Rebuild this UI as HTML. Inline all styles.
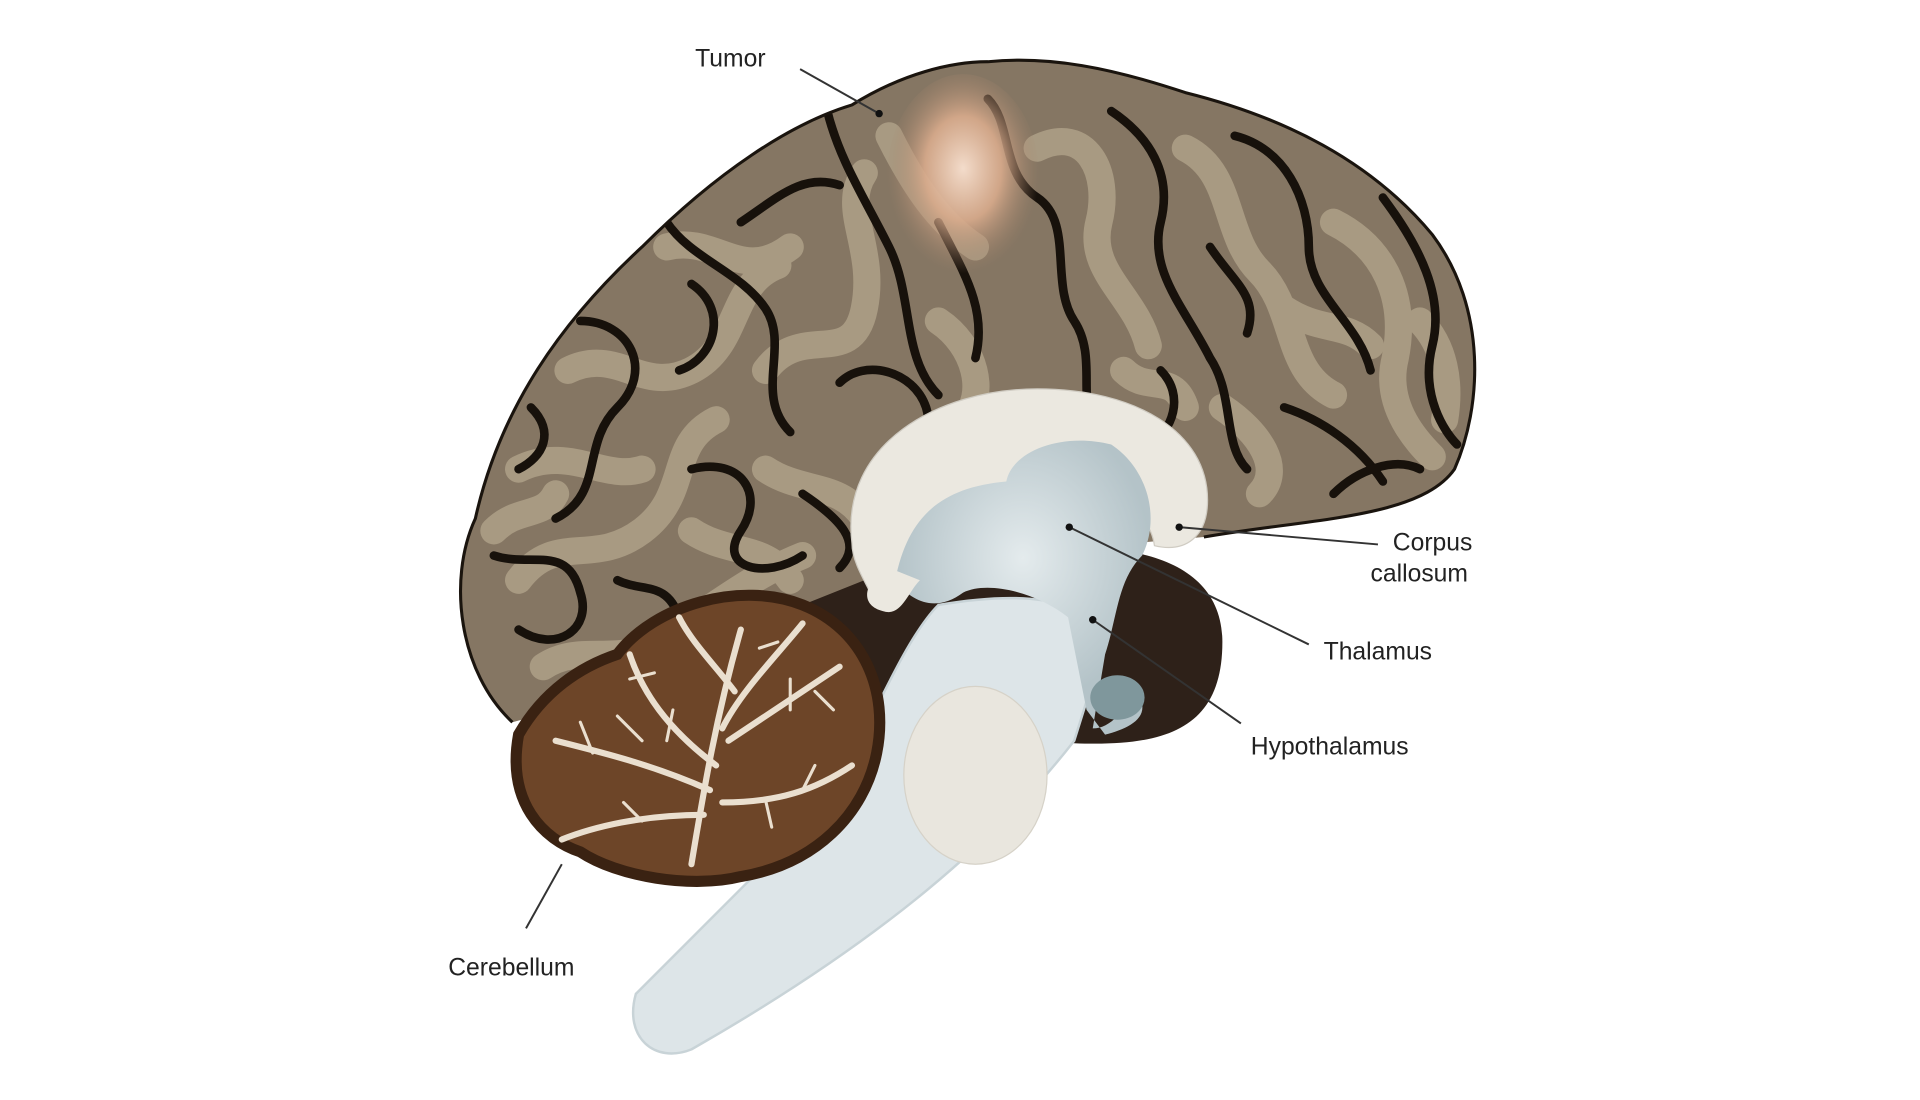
<!DOCTYPE html>
<html><head><meta charset="utf-8"><style>
html,body{margin:0;padding:0;background:#fff;width:1920px;height:1100px;overflow:hidden}
svg{display:block}
text{font-family:"Liberation Sans",sans-serif;font-size:20px;fill:#222}
</style></head><body>
<svg width="1920" height="1100" viewBox="0 0 1555 891" preserveAspectRatio="none">
<defs>
<radialGradient id="tum" cx="50%" cy="45%" r="50%">
<stop offset="0" stop-color="#f3dccb"/><stop offset="0.5" stop-color="#d9ab8c" stop-opacity="0.9"/><stop offset="1" stop-color="#a08068" stop-opacity="0"/>
</radialGradient>
<radialGradient id="thal" cx="50%" cy="40%" r="50%"><stop offset="0" stop-color="#e4ebed"/><stop offset="1" stop-color="#b4c3c8"/></radialGradient>
<clipPath id="cc"><path d="M415,585 C372,545 362,470 385,420 C405,330 455,260 520,200 C580,140 640,100 690,85 C730,60 770,50 800,50 C850,45 900,55 960,75 C1040,95 1110,130 1160,190 C1205,250 1200,330 1178,380 C1150,420 1060,420 975,435 L860,445 L700,470 L600,510 L470,570 Z"/></clipPath>
</defs>
<!-- dark region behind -->
<path d="M620,500 C700,450 800,440 860,445 C930,440 990,460 990,520 C990,590 945,605 870,602 L720,600 L640,600 Z" fill="#2e2119"/>
<!-- cerebrum -->
<path d="M415,585 C372,545 362,470 385,420 C405,330 455,260 520,200 C580,140 640,100 690,85 C730,60 770,50 800,50 C850,45 900,55 960,75 C1040,95 1110,130 1160,190 C1205,250 1200,330 1178,380 C1150,420 1060,420 975,435 L860,445 L700,470 L600,510 L470,570 Z" fill="#857663"/>
<g clip-path="url(#cc)">
<g fill="none" stroke="#a89a82" stroke-width="22" stroke-linecap="round">
<path d="M420,470 C450,430 480,460 520,430 C560,400 540,360 580,340"/>
<path d="M460,300 C500,280 520,320 560,300 C600,280 590,230 630,215"/>
<path d="M540,200 C580,190 600,230 640,200"/>
<path d="M620,300 C650,260 690,300 700,250 C710,200 680,170 700,140"/>
<path d="M840,120 C880,100 900,140 890,180 C880,220 920,240 930,280"/>
<path d="M960,120 C1000,140 990,190 1020,220 C1050,250 1040,300 1080,320"/>
<path d="M1080,180 C1120,200 1140,240 1130,290 C1120,330 1150,360 1160,370"/>
<path d="M420,380 C460,360 490,390 520,380"/>
<path d="M440,540 C470,520 500,540 530,520 C570,500 600,470 650,450"/>
<path d="M760,260 C790,280 800,320 780,340"/>
<path d="M990,330 C1020,350 1040,380 1020,400"/>
<path d="M400,430 C420,410 440,420 450,400"/>
<path d="M620,380 C650,400 680,390 700,420"/>
<path d="M910,300 C930,320 950,300 960,330"/>
<path d="M1040,250 C1070,270 1090,260 1110,280"/>
<path d="M720,110 C740,150 760,180 790,200"/>
<path d="M560,430 C590,450 620,440 640,470"/>
<path d="M1150,260 C1170,280 1175,310 1170,340"/>
</g>
<g fill="none" stroke="#17110b" stroke-width="7" stroke-linecap="round" stroke-linejoin="round">
<path d="M670,90 C680,130 700,160 720,200 C740,240 730,290 760,320"/>
<path d="M540,180 C560,210 600,220 620,250 C640,280 610,320 640,350"/>
<path d="M470,260 C510,260 530,300 500,330 C470,360 490,400 450,420"/>
<path d="M400,450 C430,460 460,440 470,480 C480,510 450,530 420,510"/>
<path d="M560,380 C600,370 620,400 600,430 C580,460 620,470 650,450"/>
<path d="M800,80 C820,100 810,140 840,160 C870,180 850,230 870,260 C890,290 870,330 890,350"/>
<path d="M900,90 C930,110 950,140 940,180 C930,220 960,250 980,290 C1000,320 990,360 1010,380"/>
<path d="M1000,110 C1040,120 1060,160 1060,200 C1060,240 1100,260 1110,300"/>
<path d="M1120,160 C1150,200 1170,240 1160,280 C1150,320 1170,350 1180,360"/>
<path d="M680,310 C700,290 740,300 750,330 C760,360 720,380 710,400"/>
<path d="M560,230 C590,250 580,290 550,300"/>
<path d="M940,300 C960,320 950,350 930,360"/>
<path d="M1040,330 C1070,340 1100,360 1120,390"/>
<path d="M430,330 C450,350 440,370 420,380"/>
<path d="M480,580 C520,560 560,560 600,520"/>
<path d="M600,180 C630,160 650,140 680,150"/>
<path d="M650,400 C680,420 700,440 680,460"/>
<path d="M760,180 C780,220 800,250 790,290"/>
<path d="M980,200 C1000,230 1020,240 1010,270"/>
<path d="M1080,400 C1100,380 1130,370 1150,380"/>
<path d="M500,470 C520,480 540,470 550,500"/>
</g>
</g>
<path d="M415,585 C372,545 362,470 385,420 C405,330 455,260 520,200 C580,140 640,100 690,85 C730,60 770,50 800,50 C850,45 900,55 960,75 C1040,95 1110,130 1160,190 C1205,250 1200,330 1178,380 C1150,420 1060,420 975,435" fill="none" stroke="#1a140e" stroke-width="2.5"/>
<ellipse cx="780" cy="145" rx="62" ry="85" fill="url(#tum)"/>
<!-- brainstem -->
<path d="M760,490 C820,480 880,480 895,520 L870,600 C800,690 700,770 560,850 C530,862 505,840 515,805 L670,650 C700,600 730,520 760,490 Z" fill="#dde5e8" stroke="#c8d3d7" stroke-width="2"/>
<ellipse cx="790" cy="628" rx="58" ry="72" fill="#e9e6de" stroke="#d6d2c8"/>
<!-- corpus callosum & thalamus -->
<path d="M690,440 C680,360 760,315 840,315 C920,315 978,350 978,405 C978,435 960,448 935,442 C932,420 915,405 880,395 C860,390 800,420 760,440 C740,455 720,470 710,490 C700,470 690,455 690,440 Z" fill="#ebe8e0" stroke="#d0ccc3"/>
<path d="M725,470 C735,420 760,395 815,390 C820,365 860,350 900,360 C930,380 940,420 925,450 C905,470 905,500 895,530 L885,590 C900,590 910,575 920,560 C935,580 915,590 895,595 L880,575 L865,500 C840,480 800,470 780,480 C760,495 740,490 725,470 Z" fill="url(#thal)"/>
<ellipse cx="905" cy="565" rx="22" ry="18" fill="#7f979c"/>
<path d="M720,460 C700,470 695,490 715,495 C730,500 735,480 745,470 Z" fill="#ebe8e0"/>
<!-- cerebellum -->
<path d="M420,595 C440,560 470,540 500,530 C530,490 600,470 650,490 C700,510 720,560 710,610 C700,660 660,700 600,710 C560,720 500,710 470,690 C440,680 410,650 420,595 Z" fill="#6d4528" stroke="#3a2212" stroke-width="9"/>
<g fill="none" stroke="#eadfcf" stroke-width="5" stroke-linecap="round">
<path d="M560,700 C570,640 580,580 600,510"/>
<path d="M590,600 C620,580 650,560 680,540"/>
<path d="M575,640 C530,620 490,610 450,600"/>
<path d="M580,620 C540,590 520,560 510,530"/>
<path d="M585,590 C600,560 630,530 650,505"/>
<path d="M570,660 C520,660 480,670 455,680"/>
<path d="M585,650 C630,650 660,640 690,620"/>
<path d="M595,560 C580,540 560,520 550,500"/>
</g>
<g fill="none" stroke="#eadfcf" stroke-width="2.5" stroke-linecap="round">
<path d="M520,600 L500,580 M480,610 L470,585 M540,600 L545,575 M640,575 L640,550 M660,560 L675,575 M520,665 L505,650 M620,648 L625,670 M650,640 L660,620 M530,545 L510,550 M615,525 L630,520"/>
</g>
<!-- leaders -->
<g stroke="#333" stroke-width="1.6" fill="none">
<line x1="648" y1="56" x2="712" y2="92"/>
<line x1="955" y1="427" x2="1116" y2="441"/>
<line x1="866" y1="427" x2="1060" y2="522"/>
<line x1="885" y1="502" x2="1005" y2="586"/>
<line x1="455" y1="700" x2="426" y2="752"/>
</g>
<g fill="#111"><circle cx="712" cy="92" r="3"/><circle cx="955" cy="427" r="3"/><circle cx="866" cy="427" r="3"/><circle cx="885" cy="502" r="3"/></g>
<text x="563" y="54">Tumor</text>
<text x="1128" y="446">Corpus</text>
<text x="1110" y="471">callosum</text>
<text x="1072" y="534">Thalamus</text>
<text x="1013" y="611">Hypothalamus</text>
<text x="363" y="790">Cerebellum</text>
</svg>
</body></html>
